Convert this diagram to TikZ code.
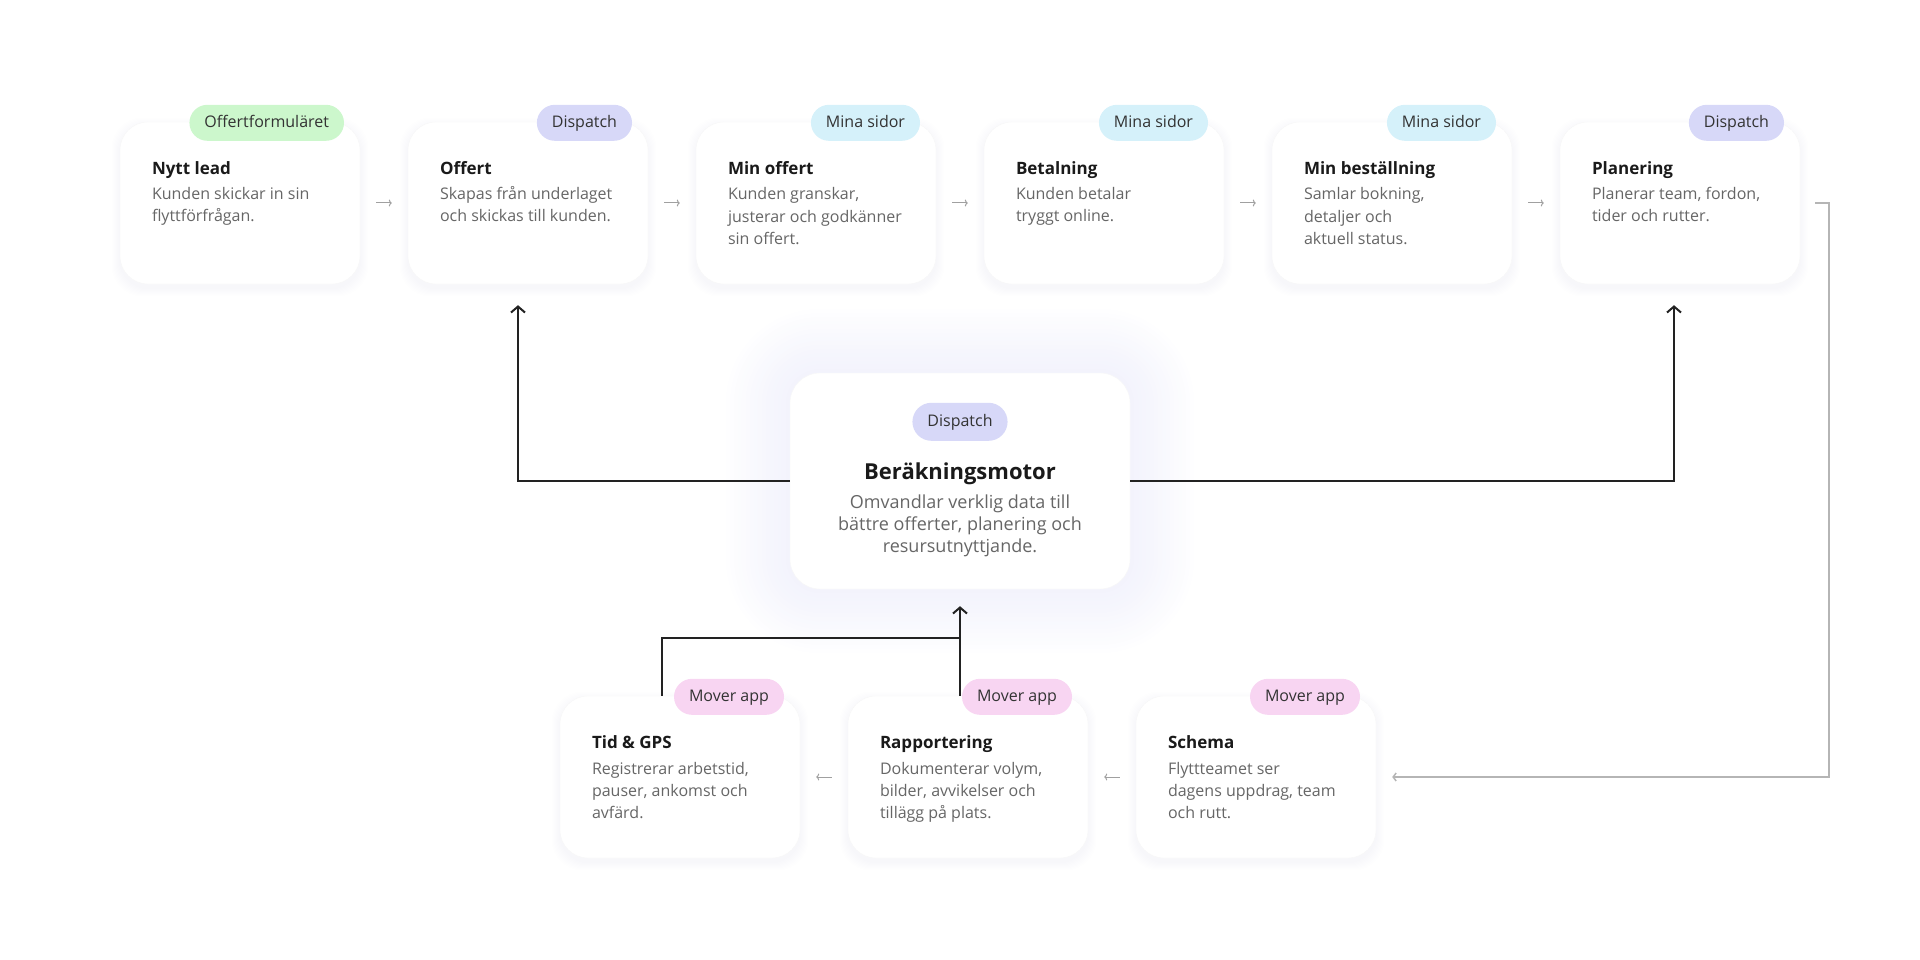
\documentclass[tikz,border=0pt]{standalone}
\usepackage{fontspec}
\setmainfont{Open Sans}
\usetikzlibrary{positioning, calc, arrows.meta, backgrounds}
\definecolor{tagGreen}{HTML}{CCF7CC}
\definecolor{tagLila}{HTML}{D7D8F8}
\definecolor{tagCyan}{HTML}{D5F1FA}
\definecolor{tagPink}{HTML}{F8D5F2}
\definecolor{titleInk}{HTML}{1A1A1A}
\definecolor{descInk}{HTML}{666666}
\definecolor{flowGray}{HTML}{A0A0A0}
\definecolor{lineGray}{HTML}{B5B5B5}
\definecolor{linkInk}{HTML}{222222}
\definecolor{glow}{HTML}{D9DAF7}
\tikzset{
  card/.style={draw=black!3, fill=white, rounded corners=28pt, minimum width=240pt,
    minimum height=162pt, inner sep=0pt},
  tag/.style={fill=#1, rounded corners=18pt, minimum height=36pt, inner xsep=15pt,
    inner ysep=0pt, text height=11.5pt, text depth=3pt, text=black!80, font=\fontsize{16}{18}\selectfont},
  ttl/.style={anchor=base west, inner sep=0pt, text=titleInk, font=\fontsize{17}{20}\selectfont\bfseries},
  txt/.style={anchor=north west, inner sep=0pt, align=left, text=descInk, font=\fontsize{16}{22}\selectfont},
  flow/.style={draw=flowGray, line width=1pt, -{To[length=3pt,width=7pt]}, shorten <=16pt, shorten >=16pt},
  link/.style={draw=linkInk, line width=2pt, -{Straight Barb[length=6pt,width=14pt]}},
  back/.style={draw=lineGray, line width=1.5pt, -{Straight Barb[length=3pt,width=8pt]}},
  shade/.style={fill=black!60!blue, fill opacity=0.005}
}
\begin{document}
\begin{tikzpicture}[x=1pt,y=-1pt]
\useasboundingbox (0,0) rectangle (1920,960);
\foreach \T/\D/\B/\C [count=\Y] in
  {Nytt lead/{Kunden skickar in sin\\flyttförfrågan.}/Offertformuläret/tagGreen,
   Offert/{Skapas från underlaget\\och skickas till kunden.}/Dispatch/tagLila,
   Min offert/{Kunden granskar,\\justerar och godkänner\\sin offert.}/Mina sidor/tagCyan,
   Betalning/{Kunden betalar\\tryggt online.}/Mina sidor/tagCyan,
   Min beställning/{Samlar bokning,\\detaljer och\\aktuell status.}/Mina sidor/tagCyan,
   Planering/{Planerar team, fordon,\\tider och rutter.}/Dispatch/tagLila}
  {\node[card] (C-\Y) at ({240+288*(\Y-1)},203) {};
   \begin{scope}[on background layer]
   \foreach \s in {1,...,8}
     \fill[shade, rounded corners=30pt] ($(C-\Y.south west)+(-\s,\s+4)$) rectangle ($(C-\Y.north east)+(\s,-\s+4)$);
   \end{scope}
   \node[tag=\C, anchor=east] (B-\Y) at ([xshift=-16pt,yshift=-1pt]C-\Y.north east) {\B};
   \node[ttl] (T-\Y) at ($(C-\Y.north west)+(32,53)$) {\T};
   \node[txt] (D-\Y) at ($(C-\Y.north west)+(32,63)$) {\rule{0pt}{15pt}\D};}
\foreach \Y [remember=\Y as \LastY (initially 1)] in {2,...,6}
  \draw[flow] (C-\LastY.east) -- (C-\Y.west);
\foreach \T/\D [count=\Y] in
  {Tid \& GPS/{Registrerar arbetstid,\\pauser, ankomst och\\avfärd.},
   Rapportering/{Dokumenterar volym,\\bilder, avvikelser och\\tillägg på plats.},
   Schema/{Flyttteamet ser\\dagens uppdrag, team\\och rutt.}}
  {\node[card] (M-\Y) at ({680+288*(\Y-1)},777) {};
   \begin{scope}[on background layer]
   \foreach \s in {1,...,8}
     \fill[shade, rounded corners=30pt] ($(M-\Y.south west)+(-\s,\s+4)$) rectangle ($(M-\Y.north east)+(\s,-\s+4)$);
   \end{scope}
   \node[tag=tagPink, anchor=east] (P-\Y) at ([xshift=-16pt,yshift=-1pt]M-\Y.north east) {Mover app};
   \node[ttl] (R-\Y) at ($(M-\Y.north west)+(32,53)$) {\T};
   \node[txt] (S-\Y) at ($(M-\Y.north west)+(32,63)$) {\rule{0pt}{15pt}\D};}
\draw[flow] (M-3.west) -- (M-2.east);
\draw[flow] (M-2.west) -- (M-1.east);
\node[card, minimum width=340pt, minimum height=216pt, rounded corners=30pt] (E) at (960,481) {};
\begin{scope}[on background layer]
\foreach \s [evaluate=\s as \r using 30+\s] in {4,8,...,64}
  \fill[glow, fill opacity=0.022, rounded corners=\r pt] ($(E.south west)+(-\s,\s)$) rectangle ($(E.north east)+(\s,-\s)$);
\end{scope}
\node[tag=tagLila, minimum height=38pt, rounded corners=19pt] (B-E) at ($(E.north)+(0,49)$) {Dispatch};
\node[anchor=base, inner sep=0pt, text=titleInk, font=\fontsize{22}{26}\selectfont\bfseries] (T-E) at ($(E.north)+(0,107)$) {Beräkningsmotor};
\node[anchor=north, inner sep=0pt, align=center, text=descInk, font=\fontsize{18}{22}\selectfont] (D-E) at ($(E.north)+(0,118)$)
  {\rule{0pt}{17pt}Omvandlar verklig data till\\bättre offerter, planering och\\resursutnyttjande.};
\draw[link] (E.west) -| ([xshift=-10pt,yshift=-21pt]C-2.south);
\draw[link] (E.east) -| ([xshift=-6pt,yshift=-21pt]C-6.south);
\coordinate (J) at ($(M-2.north)+(-8,-58)$);
\draw[link, -] ($(M-1.north)+(-18,0)$) |- (J);
\draw[link] ($(M-2.north)+(-8,0)$) -- ([yshift=-17pt]E.south);
\draw[back] ([xshift=15pt]C-6.east) -- ++(14,0) |- ([xshift=16pt]M-3.east);
\end{tikzpicture}
\end{document}
